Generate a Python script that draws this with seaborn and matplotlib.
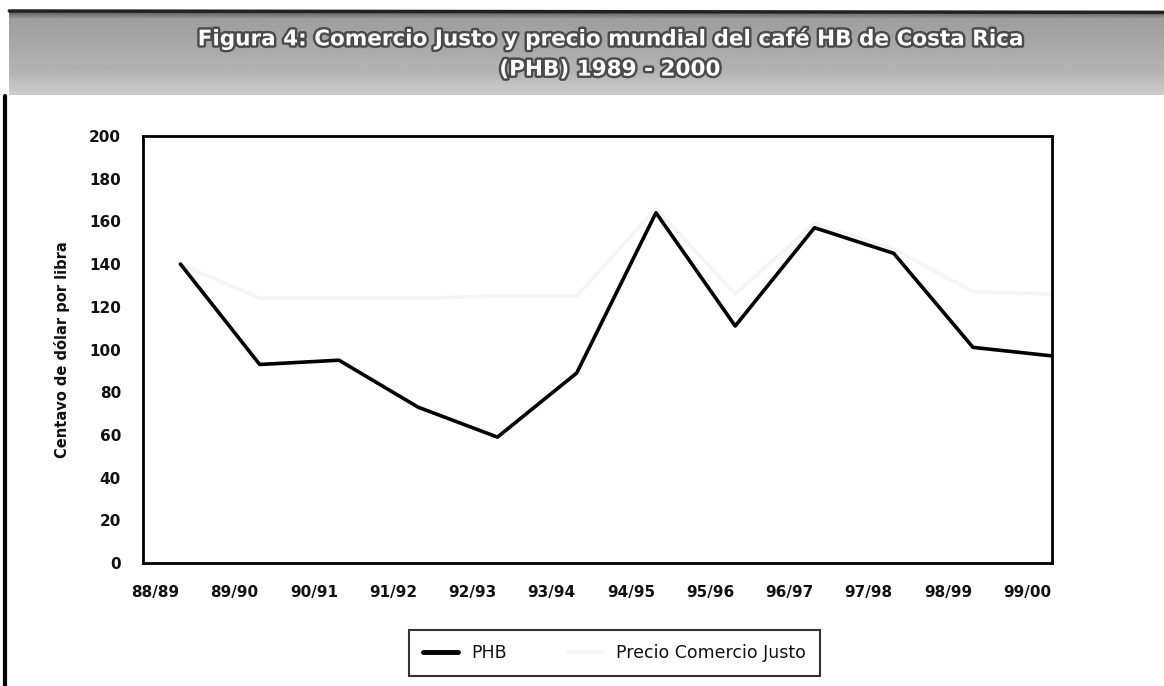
import numpy as np
import pandas as pd
import matplotlib
matplotlib.use("Agg")
import matplotlib.pyplot as plt
import matplotlib.patheffects as pe
import matplotlib.transforms as mtransforms
from matplotlib.lines import Line2D
import seaborn as sns

# DATOS
campanas = ["88/89", "89/90", "90/91", "91/92", "92/93", "93/94",
            "94/95", "95/96", "96/97", "97/98", "98/99", "99/00"]
phb = [140, 93, 95, 73, 59, 89, 164, 111, 157, 145, 101, 97]
comercio_justo = [140, 124, 124, 124, 125, 125, 166, 126, 159, 147, 127, 126]

df = pd.DataFrame({
    "x": list(range(len(campanas))) * 2,
    "valor": phb + comercio_justo,
    "serie": ["PHB"] * len(phb) + ["Precio Comercio Justo"] * len(comercio_justo),
})

sns.set_theme(style="white")
plt.rcParams["font.family"] = ["DejaVu Sans"]

fig = plt.figure(figsize=(11.64, 6.86), dpi=100)

# Banda del título
ax_t = fig.add_axes([0.008, 0.862, 0.992, 0.122])
grad = np.concatenate([np.linspace(0.35, 0.62, 10), np.linspace(0.62, 0.70, 60),
                       np.linspace(0.70, 0.80, 30)])[:, None]
ax_t.imshow(grad, aspect="auto", cmap="gray", vmin=0, vmax=1,
            extent=[0, 1, 0, 1], origin="upper")
ax_t.set_axis_off()
efecto = [pe.withStroke(linewidth=3.5, foreground="#4a4a4a")]
ax_t.text(0.52, 0.67, "Figura 4: Comercio Justo y precio mundial del café HB de Costa Rica",
          ha="center", va="center", color="white", fontsize=15.5, fontweight="bold",
          path_effects=efecto, transform=ax_t.transAxes)
ax_t.text(0.52, 0.30, "(PHB) 1989 - 2000", ha="center", va="center", color="white",
          fontsize=15.5, fontweight="bold", path_effects=efecto, transform=ax_t.transAxes)

# Marco izquierdo
fig.add_artist(Line2D([0.004, 0.004], [0.0, 0.86], color="black", lw=3,
                      transform=fig.transFigure))
fig.add_artist(Line2D([0.008, 1.0], [0.984, 0.982], color="#222222", lw=2.5,
                      transform=fig.transFigure))

# Gráfico
ax = fig.add_axes([0.123, 0.179, 0.781, 0.623])
sns.lineplot(data=df, x="x", y="valor", hue="serie",
             palette={"PHB": "black", "Precio Comercio Justo": "#f5f5f5"},
             linewidth=2.6, ax=ax, legend=False, sort=False)
ax.lines[1].set_zorder(1)
ax.lines[0].set_zorder(3)

ax.set_xlim(-0.47, len(campanas) - 1)
ax.set_ylim(0, 200)
ax.set_yticks(range(0, 201, 20))
ax.set_xticks(range(len(campanas)))
ax.set_xticklabels(campanas)
ax.tick_params(axis="both", length=0, labelsize=11, colors="#111111")
ax.tick_params(axis="x", pad=16)
ax.tick_params(axis="y", pad=16)
for lbl in ax.get_xticklabels() + ax.get_yticklabels():
    lbl.set_fontweight("bold")
desplaza = mtransforms.ScaledTranslation(-0.25, 0, fig.dpi_scale_trans)
for lbl in ax.get_xticklabels():
    lbl.set_transform(lbl.get_transform() + desplaza)

ax.set_xlabel("")
ax.set_ylabel("Centavo de dólar por libra", fontsize=10.5, fontweight="bold",
              labelpad=14, color="#111111")
for s in ax.spines.values():
    s.set_color("black")
    s.set_linewidth(2)

# Leyenda
handles = [Line2D([], [], color="black", lw=3.5),
           Line2D([], [], color="#f8f8f8", lw=3)]
leg = fig.legend(handles, ["PHB", "Precio Comercio Justo"], loc="center",
                 bbox_to_anchor=(0.528, 0.048), ncol=2, frameon=True, fancybox=False,
                 fontsize=12.5, handlelength=2.0, columnspacing=3.5,
                 borderpad=0.8, borderaxespad=0, edgecolor="black")
leg.get_frame().set_linewidth(1.5)
for t in leg.get_texts():
    t.set_color("#111111")

fig.savefig("out.png", dpi=100, facecolor="white")
